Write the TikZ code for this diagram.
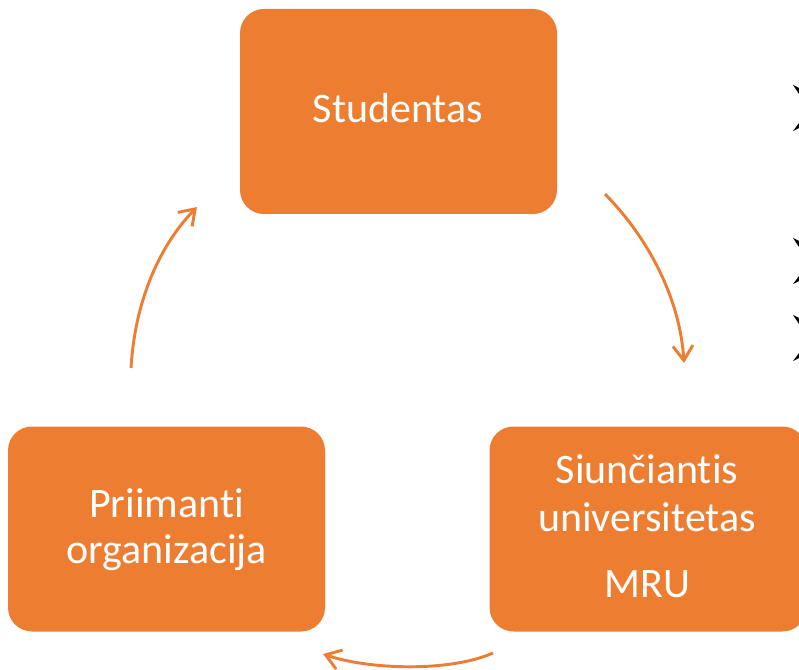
\documentclass[tikz,border=0pt]{standalone}
\usepackage{fontspec}
\setmainfont{Carlito}[Ligatures=NoCommon]
\usetikzlibrary{arrows.meta}
\definecolor{acc}{HTML}{ED7D31}
\begin{document}
\begin{tikzpicture}[x=0.75pt,y=-0.75pt,
  boxst/.style={fill=acc, draw=none, rounded corners=18pt, minimum width=237.75pt, minimum height=153.75pt, inner sep=0pt},
  lbl/.style={text=white, font=\fontsize{31.5}{38}\selectfont, anchor=base, inner sep=0pt},
  flow/.style={draw=acc, line width=2.2pt, -{Straight Barb[length=11pt,width=15pt]}},
  cutbullet/.pic={\fill[black] (0,0) -- (6,3) -- (6,9) -- cycle; \fill[black] (0,46) -- (6,38) -- (6,43) -- cycle;}]
\useasboundingbox (0,0) rectangle (799,670);
% boxes
\node[boxst] (stud) at (398.5,111.5) {};
\node[boxst] (priim) at (166.5,529) {};
\node[boxst] (siunc) at (648,529) {};
% labels
\node[lbl] (t1) at (398,123) {Studentas};
\node[lbl] (t2) at (166.5,517) {Priimanti};
\node[lbl] (t3) at (166.5,563) {organizacija};
\node[lbl] (t4) at (647,483) {Siunčiantis};
\node[lbl] (t5) at (647,531) {universitetas};
\node[lbl] (t6) at (647.5,597) {MRU};
% cycle arrows
\coordinate (a1s) at (605,194);
\coordinate (a1e) at (684,363);
\coordinate (a2s) at (493,653);
\coordinate (a2e) at (323,654);
\coordinate (a3s) at (131,368);
\coordinate (a3e) at (197,207);
\draw[flow] (a1s) .. controls (650,240) and (680,300) .. (a1e);
\draw[flow] (a2s) .. controls (450,672) and (370,670) .. (a2e);
\draw[flow] (a3s) .. controls (135,300) and (160,245) .. (a3e);
% cut-off bullets at right edge
\pic at (793,85) {cutbullet};
\pic at (793,238) {cutbullet};
\pic at (793,315) {cutbullet};
\end{tikzpicture}
\end{document}
